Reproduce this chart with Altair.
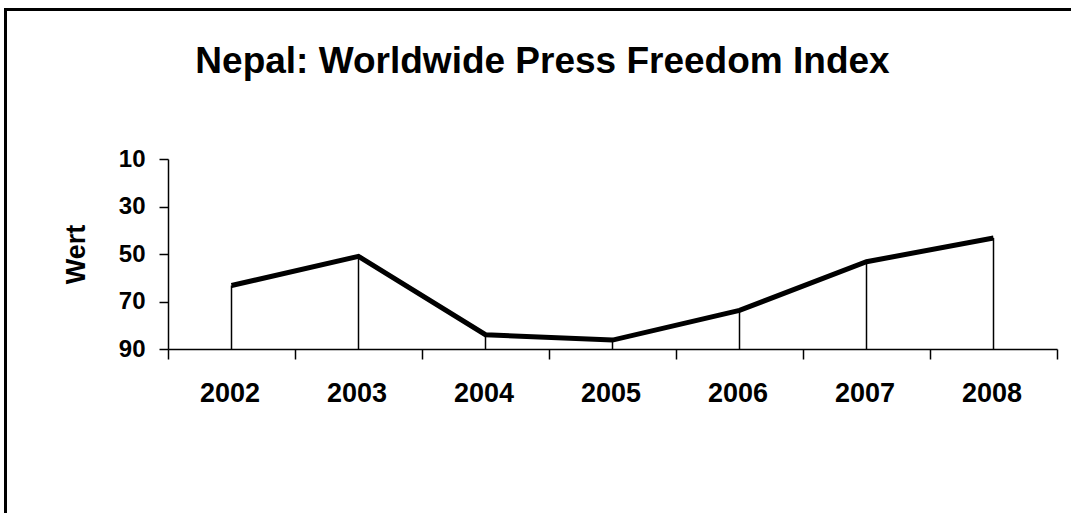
import altair as alt
import pandas as pd

# Nepal, Worldwide Press Freedom Index scores per year
years = ["2002", "2003", "2004", "2005", "2006", "2007", "2008"]
scores = [63.25, 51.0, 84.0, 86.25, 73.75, 53.25, 43.25]
y_ticks = [10, 30, 50, 70, 90]
title_text = "Nepal: Worldwide Press Freedom Index"

df = pd.DataFrame({"year": years, "score": scores})

FONT = "Liberation Sans"
PLOT_LEFT, PLOT_TOP = 168, 159
PLOT_W, PLOT_H = 889, 190

x_enc = alt.X(
    "year:N",
    sort=years,
    scale=alt.Scale(type="band", paddingInner=0, paddingOuter=0),
    axis=alt.Axis(
        title=None,
        labelAngle=0,
        tickBand="extent",
        tickSize=10,
        tickColor="black",
        tickWidth=1.5,
        domainColor="black",
        domainWidth=1.5,
        labelFont=FONT,
        labelFontSize=27,
        labelFontWeight="bold",
        labelColor="black",
        labelPadding=21,
        labelOffset=-2,
    ),
)

y_enc = alt.Y(
    "score:Q",
    scale=alt.Scale(domain=[10, 90], reverse=True, nice=False, zero=False),
    axis=alt.Axis(
        title="Wert",
        values=y_ticks,
        grid=False,
        tickSize=9,
        tickColor="black",
        tickWidth=1.5,
        domainColor="black",
        domainWidth=1.5,
        labelFont=FONT,
        labelFontSize=24,
        labelFontWeight="bold",
        labelColor="black",
        labelPadding=14,
        titleFont=FONT,
        titleFontSize=27,
        titleFontWeight="bold",
        titleColor="black",
        titlePadding=28,
    ),
)

base = alt.Chart(df)

# thin drop lines from each yearly value down to the baseline
drops = base.mark_rule(color="black", strokeWidth=1.5).encode(
    x=x_enc, y=y_enc, y2=alt.datum(90)
)

line = base.mark_line(color="black", strokeWidth=5).encode(x=x_enc, y=y_enc)

# outer frame (top and left edges) and heading, placed relative to the plot area
one_row = pd.DataFrame({"k": [0]})
frame_top = alt.Chart(one_row).mark_rule(color="black", strokeWidth=3).encode(
    x=alt.value(5.5 - PLOT_LEFT - 1.5), x2=alt.value(1071 - PLOT_LEFT), y=alt.value(9.5 - PLOT_TOP)
)
frame_left = alt.Chart(one_row).mark_rule(color="black", strokeWidth=3).encode(
    x=alt.value(5.5 - PLOT_LEFT), y=alt.value(8 - PLOT_TOP), y2=alt.value(513 - PLOT_TOP)
)
heading = alt.Chart(one_row).mark_text(
    text=title_text,
    font=FONT,
    fontSize=37,
    fontWeight="bold",
    color="black",
    align="center",
    baseline="alphabetic",
).encode(x=alt.value(542.5 - PLOT_LEFT), y=alt.value(73 - PLOT_TOP))

chart = (
    alt.layer(frame_top, frame_left, heading, drops, line)
    .properties(
        width=PLOT_W,
        height=PLOT_H,
        background="white",
        autosize=alt.AutoSizeParams(type="none"),
        padding={
            "left": PLOT_LEFT,
            "top": PLOT_TOP,
            "right": 1071 - PLOT_LEFT - PLOT_W,
            "bottom": 513 - PLOT_TOP - PLOT_H,
        },
    )
    .configure_view(stroke="transparent", strokeWidth=0)
)

chart.save("out.html", embed_options={"renderer": "svg", "actions": False})
